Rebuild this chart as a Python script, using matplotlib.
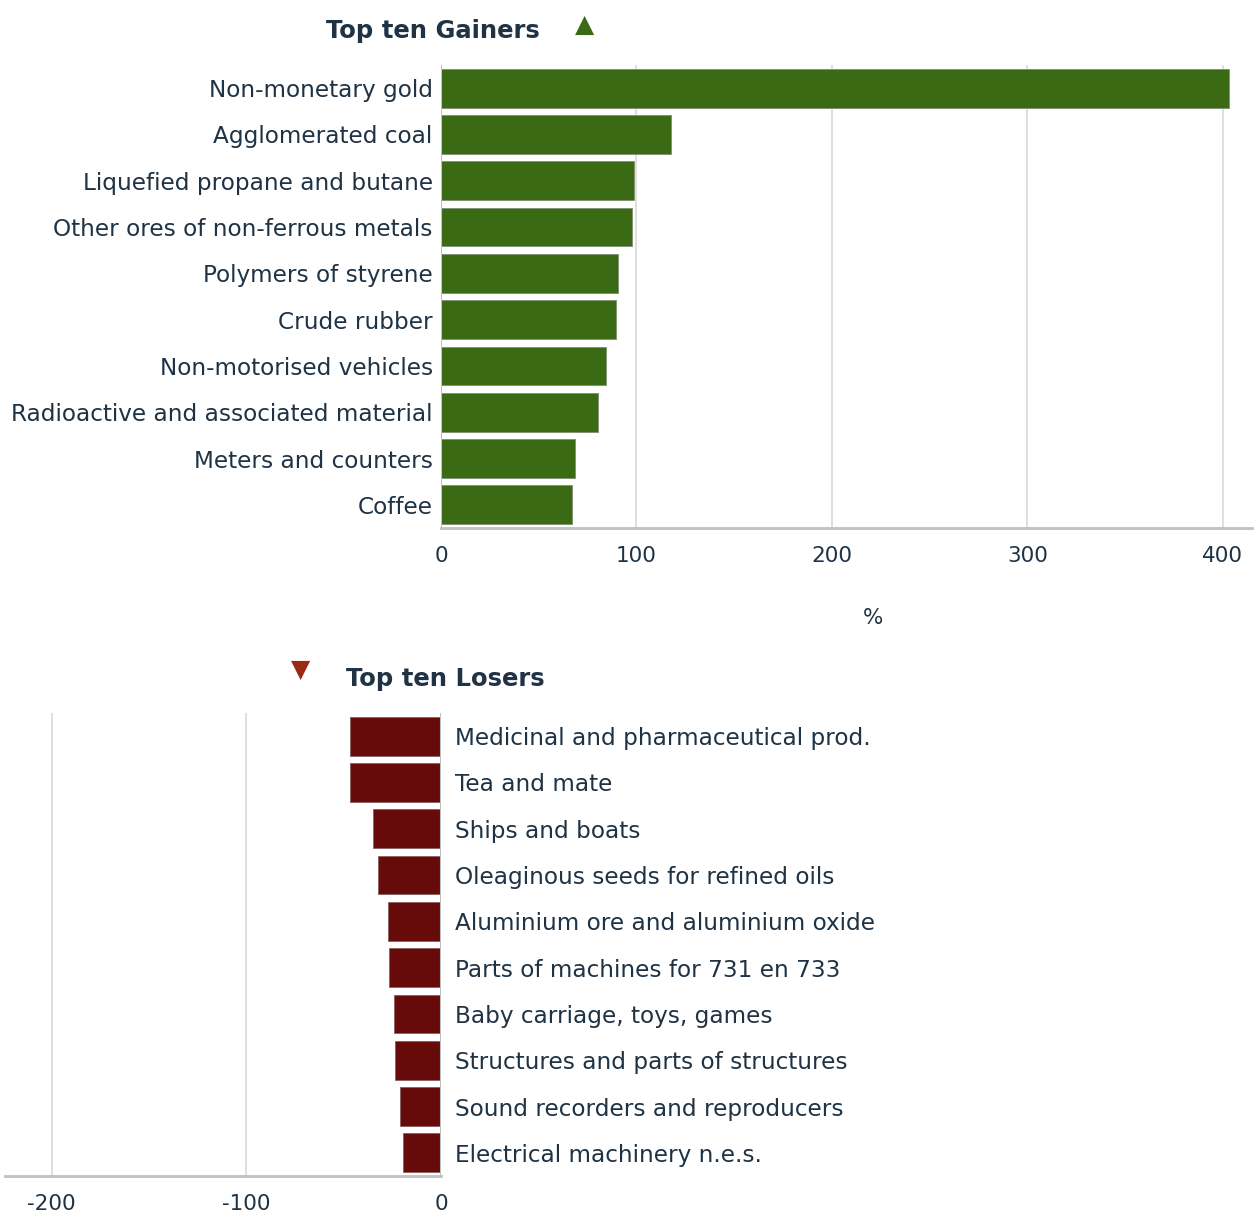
import matplotlib

matplotlib.use("Agg")
import matplotlib.pyplot as plt

plt.rcParams["font.family"] = ["DejaVu Sans"]
plt.rcParams["axes.unicode_minus"] = False

# Top ten gainers, % change
gainers = [
    "Non-monetary gold",
    "Agglomerated coal",
    "Liquefied propane and butane",
    "Other ores of non-ferrous metals",
    "Polymers of styrene",
    "Crude rubber",
    "Non-motorised vehicles",
    "Radioactive and associated material",
    "Meters and counters",
    "Coffee",
]
gain_values = [403, 117.8, 98.8, 97.8, 90.6, 89.6, 84.5, 80.4, 68.6, 67.1]

# Top ten losers, % change
losers = [
    "Medicinal and pharmaceutical prod.",
    "Tea and mate",
    "Ships and boats",
    "Oleaginous seeds for refined oils",
    "Aluminium ore and aluminium oxide",
    "Parts of machines for 731 en 733",
    "Baby carriage, toys, games",
    "Structures and parts of structures",
    "Sound recorders and reproducers",
    "Electrical machinery n.e.s.",
]
loss_values = [-46.8, -46.8, -35.0, -32.4, -27.2, -26.7, -24.2, -23.7, -21.1, -19.5]

GREEN = "#3a6b14"
RED = "#660a0a"
TRI_RED = "#9a2a15"
TEXT = "#1f3345"
GRID = "#d9d9d9"
AXIS = "#c0c0c0"
FS = 16.7
FS_NUM = 15.5

W, H = 1260, 1217
fig = plt.figure(figsize=(W / 100, H / 100), dpi=100)
fig.patch.set_facecolor("white")


def style(ax):
    for s in ("top", "right", "left", "bottom"):
        ax.spines[s].set_visible(False)
    ax.spines["bottom"].set_visible(True)
    ax.spines["bottom"].set_color(AXIS)
    ax.spines["bottom"].set_linewidth(2)
    ax.tick_params(axis="both", length=0, colors=TEXT)
    ax.tick_params(axis="y", labelsize=FS)
    ax.tick_params(axis="x", labelsize=FS_NUM, pad=13)
    ax.grid(axis="x", color=GRID, linewidth=1.2, zorder=0)
    ax.set_axisbelow(True)


# --- gainers
ax1 = fig.add_axes([441 / W, 1 - 528 / H, (1252 - 441) / W, 463 / H])
ypos = range(len(gainers))
ax1.barh(ypos, gain_values, height=0.84, color=GREEN, edgecolor="#7f8f70",
         linewidth=0.6, zorder=3)
ax1.set_ylim(len(gainers) - 0.5, -0.5)
ax1.set_xlim(0, 415)
ax1.set_xticks([0, 100, 200, 300, 400])
ax1.set_yticks(list(ypos))
ax1.set_yticklabels(gainers)
style(ax1)
ax1.tick_params(axis="y", pad=6)
ax1.axvline(0, color=AXIS, linewidth=1.5, zorder=4)
ax1.set_xlabel("%", fontsize=FS_NUM, color=TEXT)
ax1.xaxis.set_label_coords((873 - 441) / (1252 - 441), -(608 - 528) / 463)

fig.text(433 / W, 1 - 31 / H, "Top ten Gainers", ha="center", va="center",
         fontsize=17.5, fontweight="bold", color=TEXT)
fig.text(585 / W, 1 - 25 / H, "\u25B2", ha="center", va="center",
         fontsize=18, color=GREEN)

# --- losers
ax2 = fig.add_axes([5 / W, 1 - 1176 / H, 436 / W, 463 / H])
ax2.barh(ypos, loss_values, height=0.84, color=RED, edgecolor="#8a6060",
         linewidth=0.6, zorder=3)
ax2.set_ylim(len(losers) - 0.5, -0.5)
ax2.set_xlim(-224, 0)
ax2.set_xticks([-200, -100, 0])
ax2.set_yticks(list(ypos))
ax2.set_yticklabels(losers)
style(ax2)
ax2.yaxis.tick_right()
ax2.tick_params(axis="y", pad=10, length=0)
ax2.axvline(0, color=AXIS, linewidth=1.5, zorder=4)

fig.text(445 / W, 1 - 679 / H, "Top ten Losers", ha="center", va="center",
         fontsize=17.5, fontweight="bold", color=TEXT)
fig.text(301 / W, 1 - 670 / H, "\u25BC", ha="center", va="center",
         fontsize=18, color=TRI_RED)

fig.savefig("out.png", dpi=100, facecolor="white")
